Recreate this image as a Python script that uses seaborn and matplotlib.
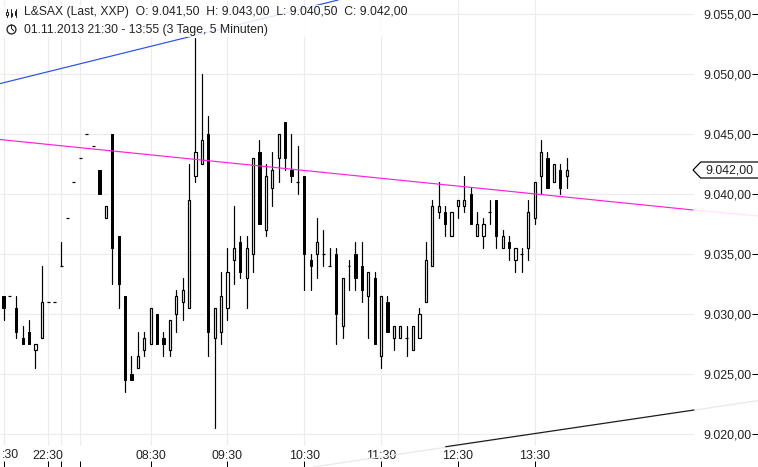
import pandas as pd
import seaborn as sns
import matplotlib.pyplot as plt
from matplotlib.patches import Polygon, Rectangle
plt.switch_backend('agg')

opens = [9031.5, 9031.5, 9030.5, 9028, 9028.5, 9027, 9028, 9031, 9031, 9034,
         9038, 9041, 9043, 9045, 9044, 9042, 9038, 9045, 9036.5, 9031.5,
         9025, 9025.5, 9027, 9027.5, 9030, 9028, 9027, 9030, 9031, 9030.5,
         9041.5, 9042.5, 9045, 9028, 9028.5, 9030.5, 9034.5, 9036, 9033, 9035,
         9043.5, 9037, 9040.5, 9043, 9046, 9042, 9041, 9041.5, 9034.5, 9035,
         9035, 9034, 9035, 9029, 9034, 9035, 9034, 9031.5, 9033, 9026.5,
         9031, 9028, 9028, 9028, 9027, 9028, 9031, 9034, 9038.5, 9038.5,
         9036.5, 9039, 9039, 9040, 9036.5, 9036.5, 9038.5, 9039.5, 9035.5, 9036,
         9034.5, 9035, 9035.5, 9038, 9041.5, 9043, 9041, 9042, 9041.5]
highs = [9031.5, 9031.5, 9031.5, 9029, 9029.5, 9027.5, 9034, 9031, 9031, 9036,
         9038, 9041, 9043, 9045, 9044, 9042, 9039, 9045, 9036.5, 9031.5,
         9026.5, 9028.5, 9028.5, 9030.5, 9030, 9028.5, 9029.5, 9032, 9033, 9042.5,
         9053, 9050, 9046.5, 9030.5, 9033.5, 9035.5, 9039, 9036.5, 9036.5, 9043,
         9044.5, 9042.5, 9043.5, 9045, 9046, 9045, 9044, 9041.5, 9035, 9038,
         9037, 9035.5, 9035.5, 9033, 9034.5, 9036, 9036, 9033.5, 9033.5, 9031.5,
         9031.5, 9029, 9029, 9029, 9029, 9030.5, 9036, 9039.5, 9041, 9039,
         9038.5, 9039.5, 9041.5, 9040.5, 9038.5, 9038, 9039.5, 9039.5, 9037, 9036.5,
         9035.5, 9035.5, 9039.5, 9041, 9044.5, 9043.5, 9042.5, 9042.5, 9043]
lows = [9029.5, 9031.5, 9028, 9027.5, 9027.5, 9025.5, 9028, 9031, 9031, 9034,
        9038, 9041, 9043, 9045, 9044, 9040, 9038, 9032.5, 9030.5, 9023.5,
        9024.5, 9025.5, 9026.5, 9027.5, 9027.5, 9026.5, 9026.5, 9028.5, 9029.5, 9030.5,
        9041, 9042.5, 9026.5, 9020.5, 9027.5, 9029.5, 9032.5, 9033, 9030.5, 9033.5,
        9037.5, 9036.5, 9039, 9041, 9042, 9041, 9040, 9032, 9032, 9033,
        9034, 9034, 9027.5, 9028, 9032, 9032, 9031, 9028, 9027.5, 9025.5,
        9028.5, 9027, 9028, 9026.5, 9027, 9028, 9031, 9034, 9038, 9036.5,
        9036.5, 9038, 9038.5, 9037.5, 9036.5, 9035.5, 9037.5, 9035.5, 9035.5, 9034.5,
        9033.5, 9033.5, 9034.5, 9037.5, 9040, 9040.5, 9041, 9040, 9040.5]
closes = [9030.5, 9031.5, 9028.5, 9027.5, 9027.5, 9027.5, 9031, 9031, 9031, 9034,
          9038, 9041, 9043, 9045, 9044, 9040, 9039, 9035.5, 9032.5, 9024.5,
          9024.5, 9026.5, 9028, 9030.5, 9027.5, 9027.5, 9029.5, 9031.5, 9032, 9039.5,
          9043.5, 9044.5, 9028.5, 9030.5, 9031.5, 9033.5, 9035.5, 9033.5, 9035.5, 9043,
          9037.5, 9041.5, 9042, 9045, 9043, 9041.5, 9041, 9035, 9034, 9036,
          9035, 9034, 9030, 9033, 9034, 9033, 9032, 9033.5, 9027.5, 9031.5,
          9028.5, 9029, 9029, 9028, 9029, 9030, 9034.5, 9039, 9039, 9037.5,
          9038.5, 9039.5, 9039.5, 9037.5, 9037.5, 9037.5, 9038.5, 9036.5, 9036.5, 9035.5,
          9035.5, 9035, 9038.5, 9041, 9043.5, 9040.5, 9042.5, 9040.5, 9042]

y_ticks = [9055, 9050, 9045, 9040, 9035, 9030, 9025, 9020]
y_labels = ['9.055,00', '9.050,00', '9.045,00', '9.040,00',
            '9.035,00', '9.030,00', '9.025,00', '9.020,00']
x_ticks = [0, 7, 9, 12, 23, 35, 47, 59, 71, 83]
x_labels = ['', '22:30', '', '', '08:30', '09:30', '10:30', '11:30', '12:30', '13:30']
cut_label = ':30'

blue_x, blue_y = [-0.55, 52.3], [9049.2, 9056.167]
pink_x, pink_y = [-0.55, 107.73], [9044.54, 9038.67]
pink_far_x, pink_far_y = [107.73, 117.9], [9038.67, 9038.17]
black_x, black_y = [69.1, 107.9], [9018.94, 9022.0]
black_far_x, black_far_y = [48.4, 117.9], [9017.25, 9022.78]

last_price = 9042
last_label = '9.042,00'
title_1 = 'L&SAX (Last, XXP)  O: 9.041,50  H: 9.043,00  L: 9.040,50  C: 9.042,00'
title_2 = '01.11.2013 21:30 - 13:55 (3 Tage, 5 Minuten)'

X_MIN, X_MAX = -0.547, 117.9
Y_MIN, Y_MAX = 9017.25, 9056.167
GRID_RIGHT = 107.73
GRID_BOTTOM = 9019.1
PX = 0.72
FS = 8.9
TXT = '#222222'

sns.set_theme(style='white')
plt.rcParams['font.family'] = ['Liberation Sans', 'DejaVu Sans']

df = pd.DataFrame({'o': opens, 'h': highs, 'l': lows, 'c': closes})
df['i'] = df.index
up = df[df['c'] > df['o']]
down = df[df['c'] < df['o']]
flat = df[df['c'] == df['o']]

fig = plt.figure(figsize=(7.58, 4.67), dpi=100)
ax = fig.add_axes([0, 0, 1, 1])
ax.set_xlim(X_MIN, X_MAX)
ax.set_ylim(Y_MIN, Y_MAX)
for s in ax.spines.values():
    s.set_visible(False)

ax.hlines(y_ticks, X_MIN, GRID_RIGHT, color='#ececec', lw=PX * 1.2, zorder=1)
ax.vlines(x_ticks, GRID_BOTTOM, Y_MAX, color='#ececec', lw=PX * 1.2, zorder=1)

wicks = pd.concat([df[['i', 'h']].rename(columns={'h': 'p'}),
                   df[['i', 'l']].rename(columns={'l': 'p'})])
wicks = wicks[wicks['i'].isin(df[df['h'] > df['l']]['i'])]
sns.lineplot(data=wicks, x='i', y='p', units='i', estimator=None, color='black',
             lw=PX * 1.2, ax=ax, legend=False, zorder=3)

ax.bar(down['i'], down['o'] - down['c'], bottom=down['c'], width=0.34,
       color='black', edgecolor='black', lw=PX, zorder=4)
ax.bar(up['i'], up['c'] - up['o'], bottom=up['o'], width=0.34,
       color='white', edgecolor='black', lw=PX * 1.2, zorder=4)
ax.hlines(flat['o'], flat['i'] - 0.22, flat['i'] + 0.22, color='black', lw=PX * 1.2, zorder=4)

for xs, ys, col in [(pink_far_x, pink_far_y, '#ffe3fb'),
                    (black_far_x, black_far_y, '#e8e8e8'),
                    (blue_x, blue_y, '#2a52e8'),
                    (pink_x, pink_y, '#ff22dd'),
                    (black_x, black_y, '#1a1a1a')]:
    sns.lineplot(x=xs, y=ys, color=col, lw=PX * 1.2, ax=ax, legend=False, zorder=5)

ax.set_xlabel('')
ax.set_ylabel('')
ax.set_xticks(x_ticks, x_labels)
ax.yaxis.tick_right()
ax.set_yticks(y_ticks, y_labels)
ax.tick_params(axis='x', direction='in', length=4, width=PX, color='black', pad=-12.2,
               labelsize=FS, labelcolor=TXT, bottom=True)
ax.tick_params(axis='y', direction='in', length=4, width=PX, color='black', pad=-5,
               labelsize=FS, labelcolor=TXT, right=True)
for lab in ax.get_yticklabels():
    lab.set_ha('right')
ax.text(1.1, 9055 - 441 / 12, cut_label, ha='center', va='center', fontsize=FS, color=TXT)

# last price tag
ax.add_patch(Polygon([[X_MAX, last_price + 8 / 12], [108.95, last_price + 8 / 12],
                      [107.75, last_price], [108.95, last_price - 8 / 12],
                      [X_MAX, last_price - 8 / 12]],
                     closed=False, fc='white', ec='black', lw=PX * 1.2, zorder=6))
ax.text(113.4, last_price - 0.04, last_label, ha='center', va='center', fontsize=FS, color=TXT, zorder=7)

# header sits on a see-through white panel, the blue line shows faintly under it
ax.add_patch(Rectangle((X_MIN, 9053.08), 62.85, 2.67, fc='white', ec='none', alpha=0.85, zorder=6))
fig.text(24 / 758, 1 - 12.5 / 467, title_1, fontsize=8.7, color=TXT, va='center', zorder=8)
fig.text(24 / 758, 1 - 29.5 / 467, title_2, fontsize=8.8, color=TXT, va='center', zorder=8)

# header icons
ax.plot([1.25], [9053.79], 'o', ms=6.4, mfc='white', mec=TXT, mew=PX * 1.3, zorder=9)
ax.plot([1.25, 1.25, 1.6], [9054.1, 9053.79, 9053.6], color=TXT, lw=PX, zorder=10)
for x, bl, bh in [(0.55, 9054.9, 9055.2), (1.25, 9054.85, 9055.1), (1.88, 9054.9, 9055.25)]:
    ax.plot([x, x], [9054.75, 9055.42], color=TXT, lw=PX, zorder=9)
    ax.bar(x, bh - bl, bottom=bl, width=0.22, color='white', edgecolor=TXT, lw=PX, zorder=10)

fig.savefig('out.png', dpi=100)
plt.close()
